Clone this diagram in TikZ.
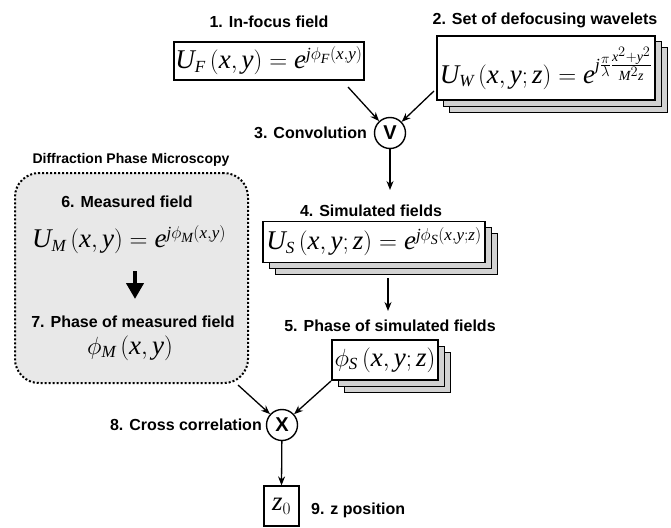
\documentclass[tikz,border=0pt]{standalone}
\usepackage{amsmath}
\usepackage{fontspec}
\setmainfont{Liberation Sans}
\newfontfamily\tms{Liberation Serif}
\newcommand{\tmv}[1]{\text{\tms\itshape #1}}
\DeclareMathSizes{27}{27}{17}{14}
\usetikzlibrary{arrows.meta,shadows,calc}
\tikzset{
  lbl/.style={font=\bfseries\fontsize{16}{19}\selectfont, inner sep=1pt},
  smalllbl/.style={font=\bfseries\fontsize{14}{17}\selectfont, inner sep=1pt},
  frm/.style={font=\fontsize{27}{32}\selectfont, inner sep=0pt},
  eqbox/.style={draw, line width=1.2pt, fill=white, inner sep=2pt, frm},
  stack/.style={double copy shadow={shadow xshift=6pt, shadow yshift=-6pt, fill=gray!35, draw=black, line width=1pt}},
  opc/.style={circle, draw, line width=1.4pt, minimum size=31pt, inner sep=0pt, font=\bfseries\fontsize{20}{22}\selectfont},
  con/.style={line width=1.3pt, -{Stealth[length=9pt,width=7pt]}},
}
\begin{document}
\begin{tikzpicture}[x=1pt,y=-1pt]
\useasboundingbox (0,0) rectangle (671,527);
% labels
\node[lbl] (l1) at (269,22) {1. In-focus field};
\node[lbl] (l2) at (545,20) {2. Set of defocusing wavelets};
% box 1
\node[eqbox, minimum width=190pt, minimum height=38pt] (b1) at (269,61)
  {$\tmv{U}_{\tmv{F}}\,(\tmv{x},\tmv{y})=\tmv{e}^{\tmv{j}\phi_{\tmv{F}}(\tmv{x},\tmv{y})}$};
% box 2
\node[eqbox, stack, minimum width=218pt, minimum height=64pt, text height=38pt, text depth=8pt, shadow xshift=7pt, shadow yshift=-8pt] (b2) at (546,68)
  {$\tmv{U}_{\tmv{W}}\,(\tmv{x},\tmv{y};\tmv{z})=\tmv{e}^{\tmv{j}\frac{\pi}{\lambda}\frac{\tmv{x}^{2}+\tmv{y}^{2}}{\tmv{M}^{2}\tmv{z}}}$};
% convolution
\node[opc] (conv) at (390,133) {V};
\node[lbl, anchor=east] (l3) at (368,133) {3. Convolution};
\coordinate (c1) at (348,87);
\coordinate (c2) at (434,91);
\draw[con] (c1) -- (conv);
\draw[con] (c2) -- (conv);
% simulated fields
\coordinate (e4) at (390,190);
\draw[con] (conv) -- (e4);
\node[lbl] (l4) at (371,211) {4. Simulated fields};
\node[eqbox, stack, minimum width=222pt, minimum height=41pt, shadow xshift=5pt, shadow yshift=-5pt] (b4) at (374,242)
  {$\tmv{U}_{\tmv{S}}\,(\tmv{x},\tmv{y};\tmv{z})=\tmv{e}^{\tmv{j}\phi_{\tmv{S}}(\tmv{x},\tmv{y};\tmv{z})}$};
\coordinate (s5) at (388,278);
\coordinate (e5) at (388,311);
\draw[con] (s5) -- (e5);
\node[lbl] (l5) at (390,326) {5. Phase of simulated fields};
\node[eqbox, stack, minimum width=106pt, minimum height=40pt] (b5) at (385,360)
  {$\phi_{\tmv{S}}\,(\tmv{x},\tmv{y};\tmv{z})$};
% DPM
\node[smalllbl] (ldpm) at (131,160) {Diffraction Phase Microscopy};
\node[draw, dotted, line width=2pt, fill=gray!18, rounded corners=24pt, minimum width=233pt, minimum height=210pt] (dpm) at (131.5,278) {};
\node[lbl] (l6) at (127,202) {6. Measured field};
\node[frm] (f6) at (129,240) {$\tmv{U}_{\tmv{M}}\,(\tmv{x},\tmv{y})=\tmv{e}^{\tmv{j}\phi_{\tmv{M}}(\tmv{x},\tmv{y})}$};
\coordinate (t1) at (135,271);
\coordinate (t2) at (135,299);
\draw[line width=4pt, -{Triangle[length=16pt,width=17pt]}] (t1) -- (t2);
\node[lbl] (l7) at (133,322) {7. Phase of measured field};
\node[frm] (f7) at (130,348) {$\phi_{\tmv{M}}\,(\tmv{x},\tmv{y})$};
% cross correlation
\node[opc] (mult) at (282,425) {X};
\node[lbl, anchor=east] (l8) at (263,425) {8. Cross correlation};
\coordinate (c5) at (331,381);
\coordinate (c6) at (238,385);
\draw[con] (c5) -- (mult);
\draw[con] (c6) -- (mult);
% z position
\node[draw, line width=1.2pt, minimum width=35pt, minimum height=40pt, inner sep=0pt, frm] (z0) at (281.5,506) {$\tmv{z}_{0}$};
\draw[con] (mult) -- (z0.north);
\node[lbl, anchor=west] (l9) at (310,510) {9. z position};
\end{tikzpicture}
\end{document}
